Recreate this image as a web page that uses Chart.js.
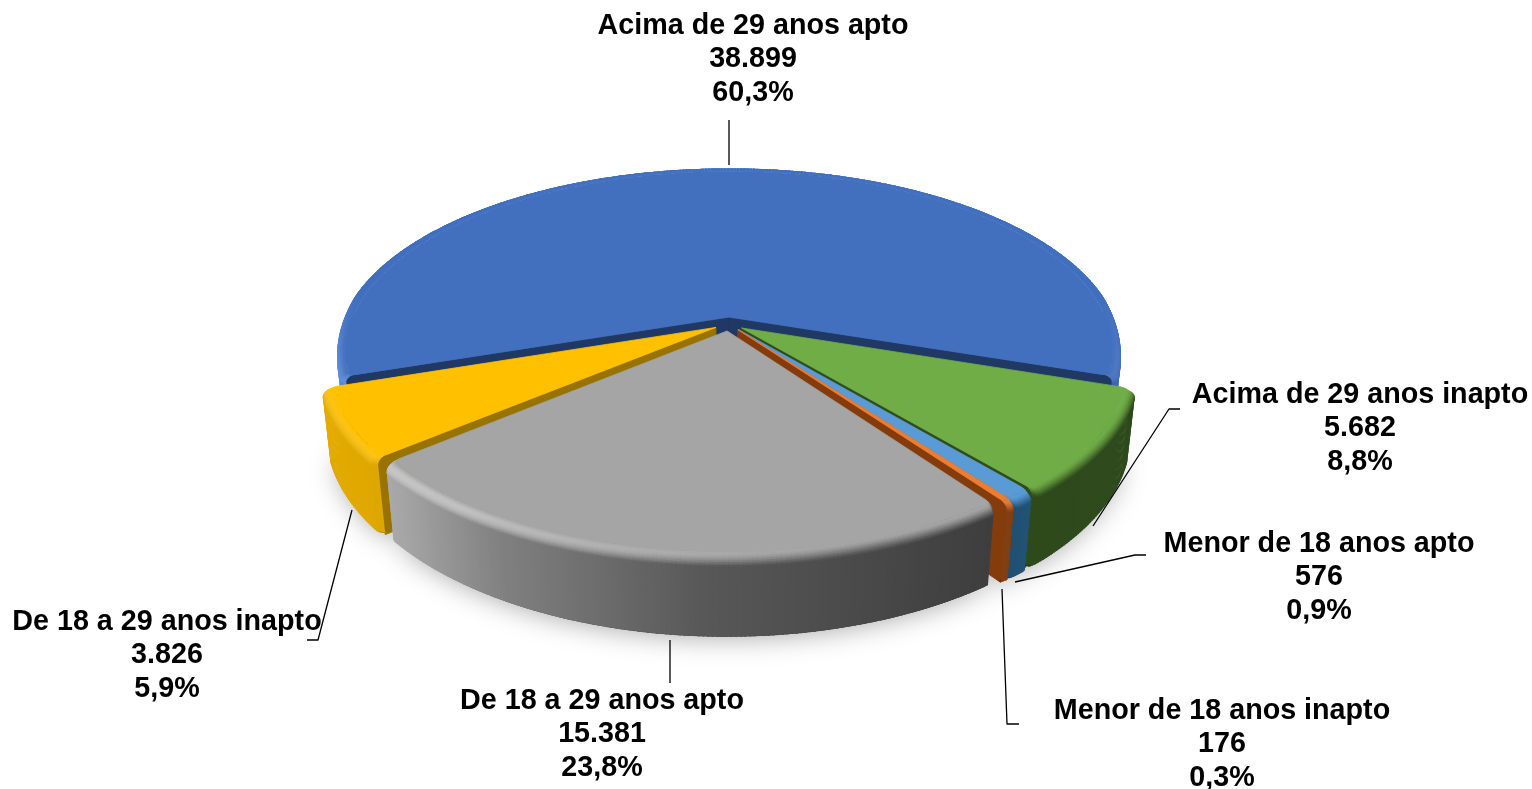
<!DOCTYPE html>
<html lang="pt"><head><meta charset="utf-8">
<style>html,body{margin:0;padding:0;background:#fff;overflow:hidden}canvas{display:block}</style>
<script src="https://cdn.jsdelivr.net/npm/chart.js@4"></script></head>
<body><canvas id="c" width="1532" height="789"></canvas>
<script>
const categories = ['Acima de 29 anos apto','Acima de 29 anos inapto','Menor de 18 anos apto','Menor de 18 anos inapto','De 18 a 29 anos apto','De 18 a 29 anos inapto'];
const values = [38899,5682,576,176,15381,3826];
const percents = ['60,3%','8,8%','0,9%','0,3%','23,8%','5,9%'];
const valueLabels = ['38.899','5.682','576','176','15.381','3.826'];
const topColors = ['#4270bf','#70ad47','#5b9bd5','#ed7d31','#a5a5a5','#ffc000'];
const sideColors = ['#1f3864','#2f4d1c','#255e91','#843c0c','#636363','#997300'];
const wallStops = [
 [[340,'#5a8ee0'],[1120,'#3a66b5']],
 [[1030,'#2e4a1b'],[1130,'#2f4a1d']],
 [[1010,'#1f4e72'],[1030,'#235374']],
 [[990,'#7f3e12'],[1010,'#843f10']],
 [[390,'#a8a8a8'],[500,'#808080'],[700,'#585858'],[990,'#3e3e3e']],
 [[325,'#e4ab00'],[395,'#dca500']]
];
const highlights = [0.08,0,0,0.05,0.36,0.1];
const labelCenters = [[753,26],[1360,395],[1319,544],[1222,711],[602,701],[167,622]];
const leaders = [
 [[729,120],[729,165]],
 [[1093,526],[1169,409],[1180,409]],
 [[1015,582],[1135,555],[1146,555]],
 [[1002,589],[1007,724],[1019,724]],
 [[670,640],[670,683]],
 [[352,510],[318,640],[307,640]]
];
const OFFSET=15, RADIUS=388, CY=324, KV=0.4638, PERSP=0.00050, DEPTH=71, ZP=0.02, ROUND=5;

const hex=h=>[1,3,5].map(i=>parseInt(h.substr(i,2),16));
const mix=(a,b,t)=>a.map((v,i)=>v+(b[i]-v)*t);
const css=c=>`rgb(${c.map(v=>Math.round(v)).join(',')})`;
const clamp=(v,a,b)=>Math.max(a,Math.min(b,v));
function stopColor(stops,x){
  if(x<=stops[0][0])return hex(stops[0][1]);
  for(let i=1;i<stops.length;i++){ if(x<=stops[i][0]){
    const t=(x-stops[i-1][0])/(stops[i][0]-stops[i-1][0]);
    return mix(hex(stops[i-1][1]),hex(stops[i][1]),t);} }
  return hex(stops[stops.length-1][1]);
}
const pie3d={id:'pie3d',
 beforeDatasetsDraw(chart){
  const ctx=chart.ctx, arcs=chart.getDatasetMeta(0).data;
  const parts=arcs.map((arc,i)=>{
    const p=arc.getProps(['x','y','startAngle','endAngle','outerRadius']);
    const off=arc.options.offset||0, mid=(p.startAngle+p.endAngle)/2;
    const ox=off*Math.cos(mid), oy=off*Math.sin(mid);
    const R=p.outerRadius, span=p.endAngle-p.startAngle;
    const rc=Math.min(ROUND,span*R/2);
    const trim=a=>{const d=Math.min(a-p.startAngle,p.endAngle-a)*R;const u=clamp(1-d/rc,0,1);return rc*(1-Math.sqrt(1-u*u));};
    const proj=(r,a,z)=>{
      const dx=ox+r*Math.cos(a), dv=oy+r*Math.sin(a), w=1-PERSP*dv+ZP*z;
      return [p.x+dx/w, CY+(KV*dv+DEPTH*z)/w];
    };
    return {i,p,mid,proj,R,trim,rc};
  });
  const poly=(pts)=>{pts.forEach((q,k)=>k?ctx.lineTo(q[0],q[1]):ctx.moveTo(q[0],q[1]));ctx.closePath();};
  const arcPts=(s,r,z)=>{const a0=s.p.startAngle,sp=s.p.endAngle-a0,n=Math.max(12,Math.ceil(sp/0.008));const o=[];
    for(let k=0;k<=n;k++){const a=a0+sp*k/n;o.push(s.proj(r-s.trim(a),a,z));}return o;};
  // soft floor shadow
  ctx.save();
  ctx.shadowColor='rgba(0,0,0,0.36)';ctx.shadowBlur=28;ctx.shadowOffsetY=4;ctx.fillStyle='#999';
  ctx.beginPath();
  parts.forEach(s=>{ if(s.i===0)return; poly([s.proj(0,0,0.9),...arcPts(s,s.R-5,0.97)]);});
  ctx.fill();
  ctx.restore();
  const order=[...parts].sort((a,b)=>Math.sin(a.mid)-Math.sin(b.mid));
  order.forEach(s=>{
    const {i,p,proj,R,trim,rc}=s, a0=p.startAngle,a1=p.endAngle;
    ctx.lineJoin='round';
    // radial walls: only those that face the viewer
    ctx.fillStyle=ctx.strokeStyle=sideColors[i];ctx.lineWidth=1;
    [[a0,-Math.cos(a0)],[a1,Math.cos(a1)]].forEach(([a,facing])=>{
      if(facing<=0)return;
      ctx.beginPath();poly([proj(0,a,0),proj(R-rc,a,0),proj(R-rc,a,1),proj(0,a,1)]);ctx.fill();ctx.stroke();});
    // outer wall with bevel, drawn as small overlapping quads
    const n=Math.max(12,Math.ceil((a1-a0)/0.01));
    const top=hex(topColors[i]);
    const BW=9,ZB=0.09,ZE=0.05,steps=9;
    const prof=[];
    for(let t=0;t<=steps;t++){const th=t/steps*Math.PI/2;prof.push([R-BW*(1-Math.sin(th)),ZB*(1-Math.cos(th)),t/steps]);}
    prof.push([R,1-ZE,1]);prof.push([R-3,1,1.2]);
    const da=(a1-a0)/n;
    const frontOf=a=>clamp((Math.sin(a)+0.12)/0.35,0,1);
    for(let j=prof.length-2;j>=0;j--){
      const P=prof[j],Q0=prof[j+1];
      // each row overlaps the one painted before it, so no background shows in the seams
      const ext=j<steps?0.7:0.02;
      const Q=[Q0[0]+(Q0[0]-P[0])*ext,Q0[1]+(Q0[1]-P[1])*ext];
      for(let k=0;k<n;k++){
        const a=a0+da*k,b=k<n-1?a+da*1.6:a+da;
        const front=frontOf(a);
        const fa=frontOf(a),fb=frontOf(b);
        const q=[proj(P[0]-trim(a),a,P[1]*fa),proj(P[0]-trim(b),b,P[1]*fb),proj(Q[0]-trim(b),b,Q[1]*fb),proj(Q[0]-trim(a),a,Q[1]*fa)];
        const X=(q[0][0]+q[1][0])/2;
        const wc=mix(top,stopColor(wallStops[i],X),front);
        const st=(P[2]+Q0[2])/2;
        let col;
        if(st<=1 && j<steps){
          col=mix(top,wc,st*st*(3-2*st));
          let hl=highlights[i]*front; if(i===4)hl*=clamp((880-X)/420,0,1);
          col=mix(col,[255,255,255],hl*Math.sin(Math.PI*Math.pow(st,0.75)));
        } else col=(j===prof.length-2)?mix(wc,[0,0,0],0.2*front):wc;
        ctx.fillStyle=css(col);
        ctx.beginPath();poly(q);ctx.fill();
      }
    }
    // top face
    ctx.fillStyle=ctx.strokeStyle=topColors[i];ctx.lineWidth=0.8;
    ctx.beginPath();poly([proj(0,a0,0),...arcPts(s,R-BW,0)]);ctx.fill();ctx.stroke();
  });
  return false;
 },
 afterDraw(chart){
  const ctx=chart.ctx;
  ctx.save();
  ctx.strokeStyle='#000';ctx.lineWidth=1.3;
  leaders.forEach(l=>{ctx.beginPath();l.forEach((q,k)=>k?ctx.lineTo(q[0],q[1]):ctx.moveTo(q[0],q[1]));ctx.stroke();});
  ctx.fillStyle='#000';ctx.font='bold 28.7px "Liberation Sans", Arial, sans-serif';ctx.textAlign='center';ctx.textBaseline='middle';
  categories.forEach((c,i)=>{const [x,y]=labelCenters[i];
    [c,valueLabels[i],percents[i]].forEach((t,k)=>ctx.fillText(t,x,y+k*33.3));});
  ctx.restore();
 }
};
new Chart(document.getElementById('c'),{
 type:'pie',
 data:{labels:categories,datasets:[{data:values,backgroundColor:topColors,borderWidth:0,offset:OFFSET,radius:RADIUS}]},
 options:{responsive:false,animation:false,rotation:-108.5,
  layout:{padding:{right:74}},
  plugins:{legend:{display:false},tooltip:{enabled:false}}},
 plugins:[pie3d]
});
</script></body></html>
